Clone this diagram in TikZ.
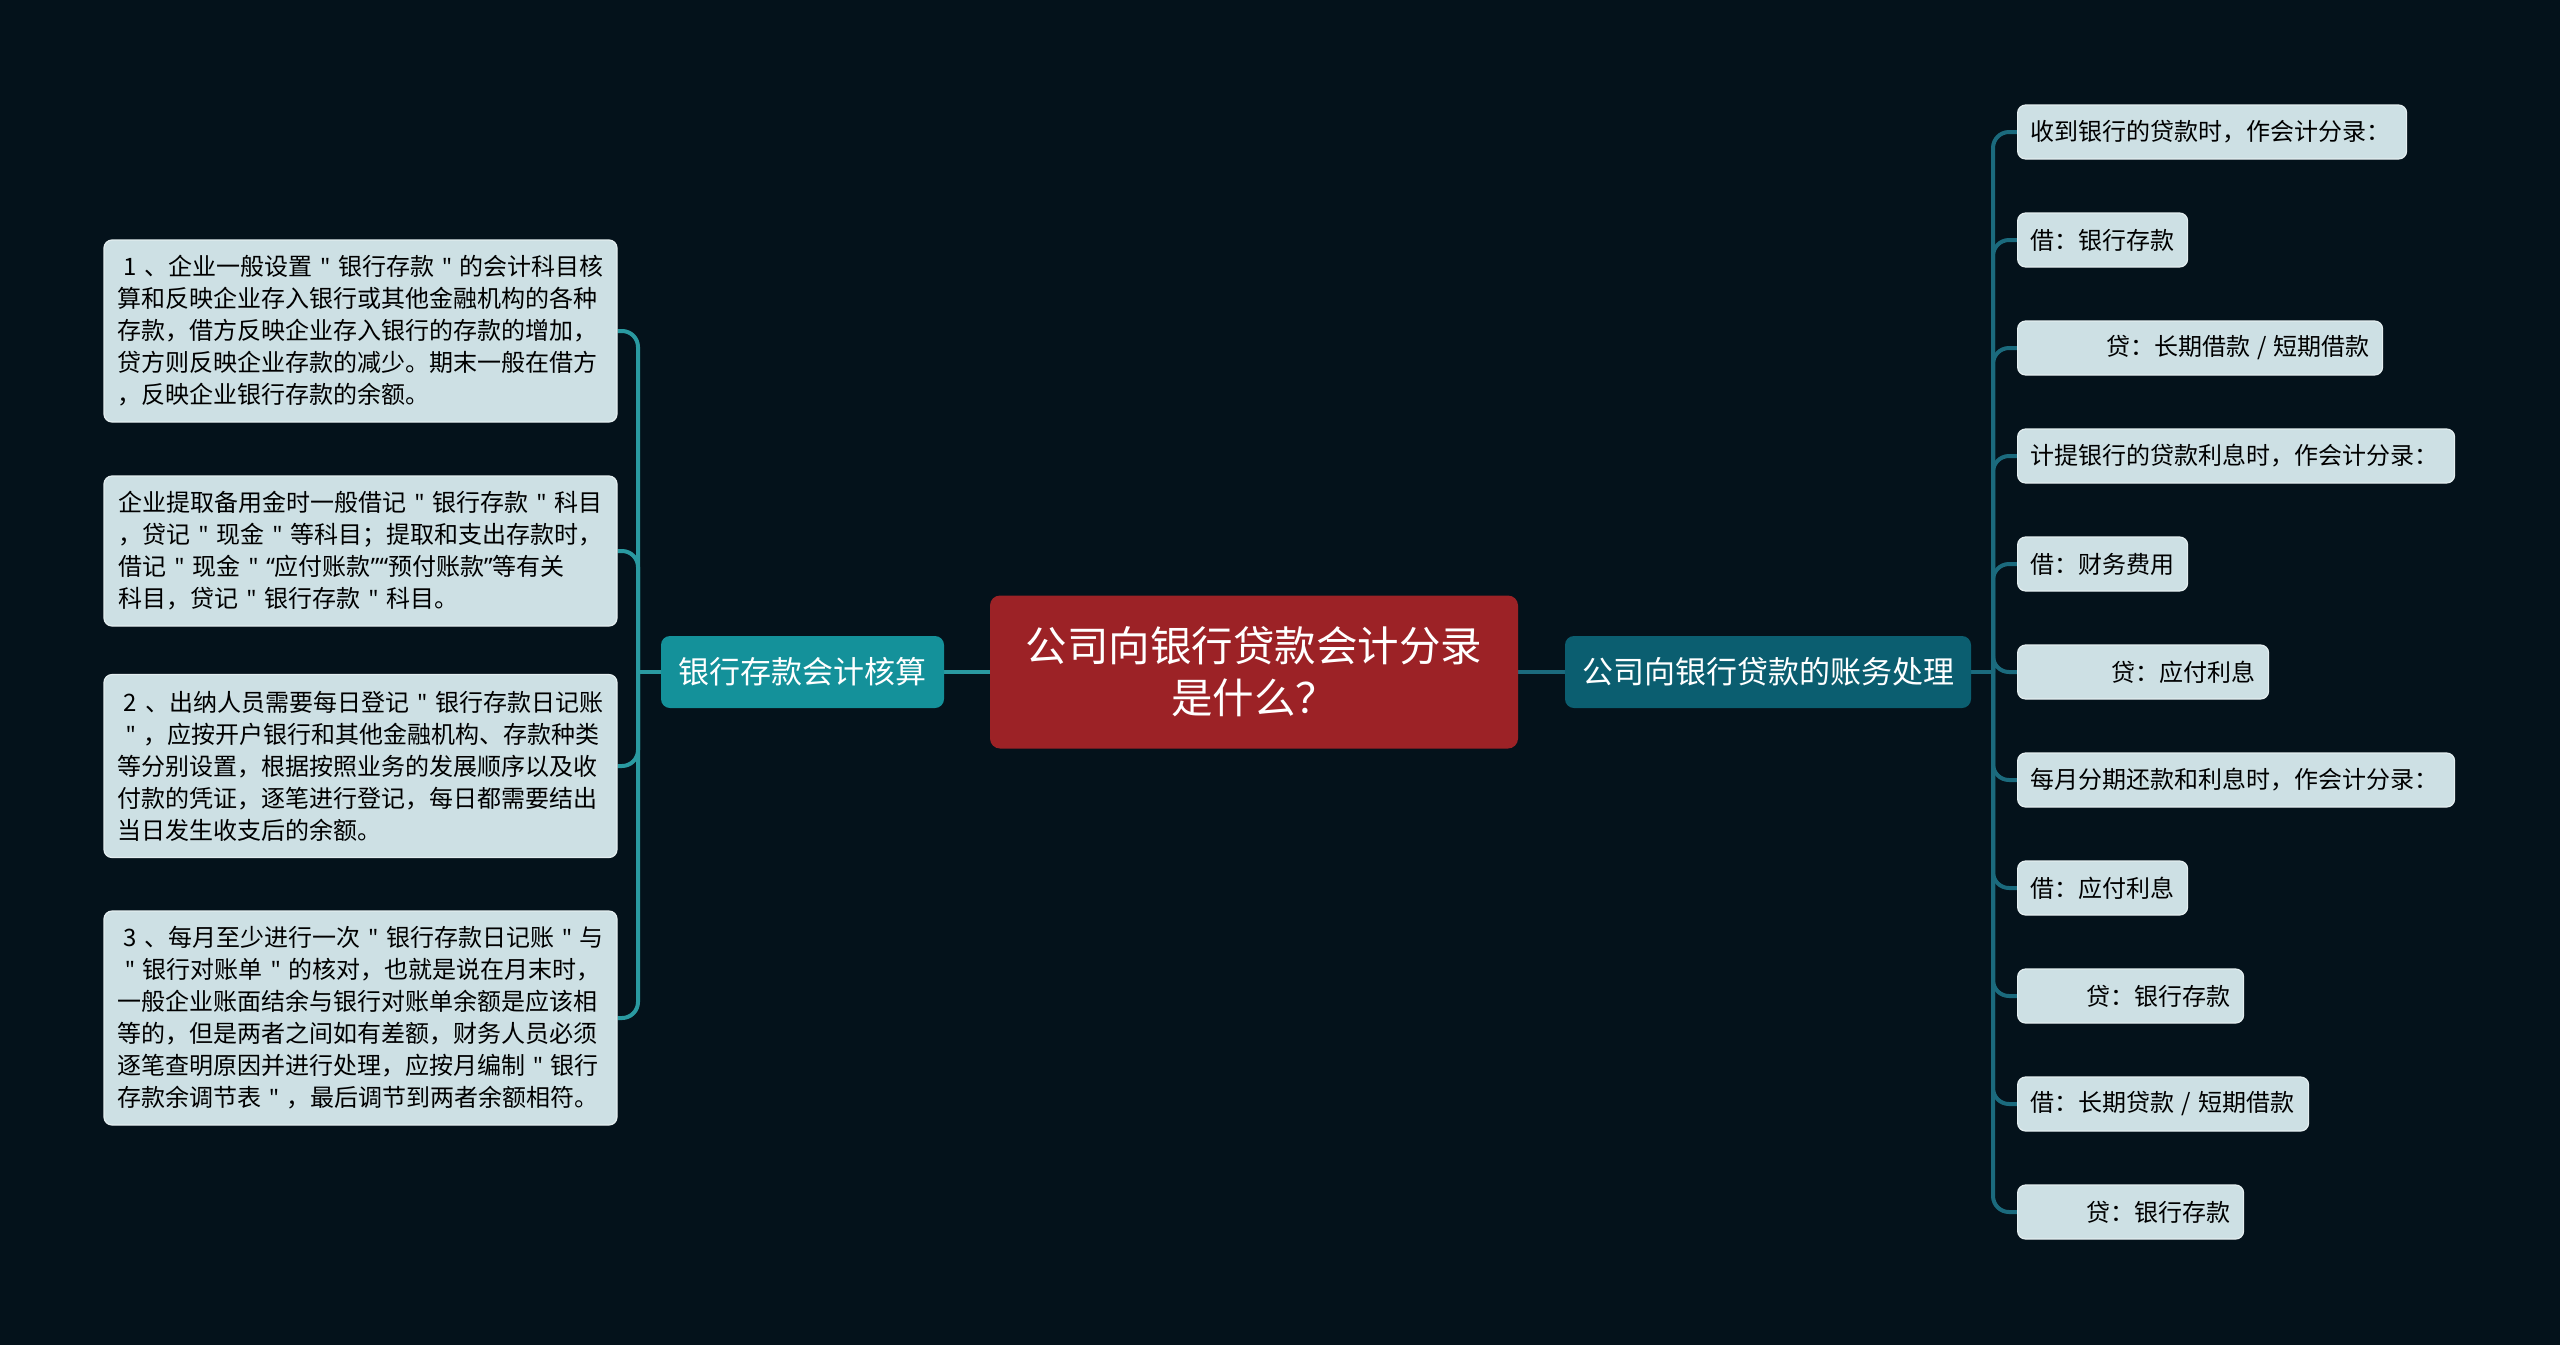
\documentclass[tikz,border=0pt]{standalone}
\usepackage{fontspec}
\setmainfont{Noto Sans CJK SC}
\newfontfamily\latf{Noto Sans}
\usetikzlibrary{backgrounds}
\definecolor{bgc}{HTML}{04121B}
\definecolor{redc}{HTML}{9C2226}
\definecolor{ltealc}{HTML}{14919A}
\definecolor{rtealc}{HTML}{0B5E70}
\definecolor{leafc}{HTML}{CDE0E4}
\definecolor{leafb}{HTML}{E4EEF0}
\definecolor{llinec}{HTML}{2A9AA1}
\definecolor{rlinec}{HTML}{1B6A7D}
\newcommand\qq{{\latf\hspace{8pt}"\hspace{8pt}}}
\newcommand\myoq{{\latf “}}
\newcommand\mycq{{\latf ”}}
\newcommand\slsep{\hspace{7pt}/\hspace{7pt}}
\newcommand\rleaf[5]{\node[leafbox, anchor=west] (#1) at (2017,#2) {\makebox[#3pt][#4]{#5}};}
\begin{document}
\begin{tikzpicture}[x=1pt,y=-1pt,
  leafbox/.style={fill=leafc, draw=leafb, line width=1.2pt, rounded corners=8pt,
    inner xsep=13pt, inner ysep=0pt, minimum height=54pt, text=black,
    font=\fontsize{24}{30}\selectfont},
  lbox/.style={fill=leafc, draw=leafb, line width=1.2pt, rounded corners=8pt,
    inner xsep=13pt, inner ysep=0pt, minimum width=513pt, align=left, text=black,
    font=\fontsize{24}{32}\selectfont},
  topic/.style={rounded corners=9pt, text=white, minimum height=72pt, inner sep=0pt,
    font=\fontsize{31}{38}\selectfont},
  centre/.style={fill=redc, rounded corners=10pt, text=white, align=center,
    minimum width=528pt, minimum height=153pt, inner sep=0pt,
    font=\fontsize{41.5}{52}\selectfont},
  lconn/.style={draw=llinec, line width=4pt},
  rconn/.style={draw=rlinec, line width=4pt},
]
\begin{scope}[on background layer]
\fill[bgc] (0,0) rectangle (2560,1345);
\end{scope}
\useasboundingbox (0,0) rectangle (2560,1345);

% central and topics
\node[centre] (c) at (1254,672) {公司向银行贷款会计分录\\是什么？};
\node[topic, fill=ltealc, minimum width=283pt] (l) at (802.5,672) {银行存款会计核算};
\node[topic, fill=rtealc, minimum width=406pt] (r) at (1768,672) {公司向银行贷款的账务处理};

% left boxes
\node[lbox, minimum height=182pt] (b1) at (360.5,331) {\hspace{6pt}1\hspace{8pt}、企业一般设置\qq 银行存款\qq 的会计科目核\\算和反映企业存入银行或其他金融机构的各种\\存款，借方反映企业存入银行的存款的增加，\\贷方则反映企业存款的减少。期末一般在借方\\，反映企业银行存款的余额。};
\node[lbox, minimum height=150pt] (b2) at (360.5,551) {企业提取备用金时一般借记\qq 银行存款\qq 科目\\，贷记\qq 现金\qq 等科目；提取和支出存款时，\\借记\qq 现金\qq \myoq 应付账款\mycq\myoq 预付账款\mycq 等有关\\科目，贷记\qq 银行存款\qq 科目。};
\node[lbox, minimum height=183pt] (b3) at (360.5,766) {\hspace{6pt}2\hspace{8pt}、出纳人员需要每日登记\qq 银行存款日记账\\\qq ，应按开户银行和其他金融机构、存款种类\\等分别设置，根据按照业务的发展顺序以及收\\付款的凭证，逐笔进行登记，每日都需要结出\\当日发生收支后的余额。};
\node[lbox, minimum height=214pt] (b4) at (360.5,1018) {\hspace{6pt}3\hspace{8pt}、每月至少进行一次\qq 银行存款日记账\qq 与\\\qq 银行对账单\qq 的核对，也就是说在月末时，\\一般企业账面结余与银行对账单余额是应该相\\等的，但是两者之间如有差额，财务人员必须\\逐笔查明原因并进行处理，应按月编制\qq 银行\\存款余调节表\qq ，最后调节到两者余额相符。};

% right leaves
\rleaf{n1}{132}{363}{l}{收到银行的贷款时，作会计分录：}
\rleaf{n2}{240}{144}{l}{借：银行存款}
\rleaf{n3}{348}{339}{r}{贷：长期借款\slsep 短期借款}
\rleaf{n4}{456}{411}{l}{计提银行的贷款利息时，作会计分录：}
\rleaf{n5}{564}{144}{l}{借：财务费用}
\rleaf{n6}{672}{225}{r}{贷：应付利息}
\rleaf{n7}{780}{411}{l}{每月分期还款和利息时，作会计分录：}
\rleaf{n8}{888}{144}{l}{借：应付利息}
\rleaf{n9}{996}{200}{r}{贷：银行存款}
\rleaf{n10}{1104}{265}{l}{借：长期贷款\slsep 短期借款}
\rleaf{n11}{1212}{200}{r}{贷：银行存款}

% hubs
\coordinate (hl) at (638,672);
\coordinate (hr) at (1993,672);

% connectors
\begin{scope}[on background layer]
\draw[lconn] (l.east) -- (c.west);
\draw[rconn] (c.east) -- (r.west);
\draw[lconn] (l.west) -- (hl);
\draw[rconn] (r.east) -- (hr);
\foreach \b in {b1,b2,b3,b4}{
  \draw[lconn, rounded corners=16pt] (hl) |- (\b.east);
}
\foreach \n in {n1,n2,n3,n4,n5,n6,n7,n8,n9,n10,n11}{
  \draw[rconn, rounded corners=16pt] (hr) |- (\n.west);
}
\end{scope}
\end{tikzpicture}
\end{document}
